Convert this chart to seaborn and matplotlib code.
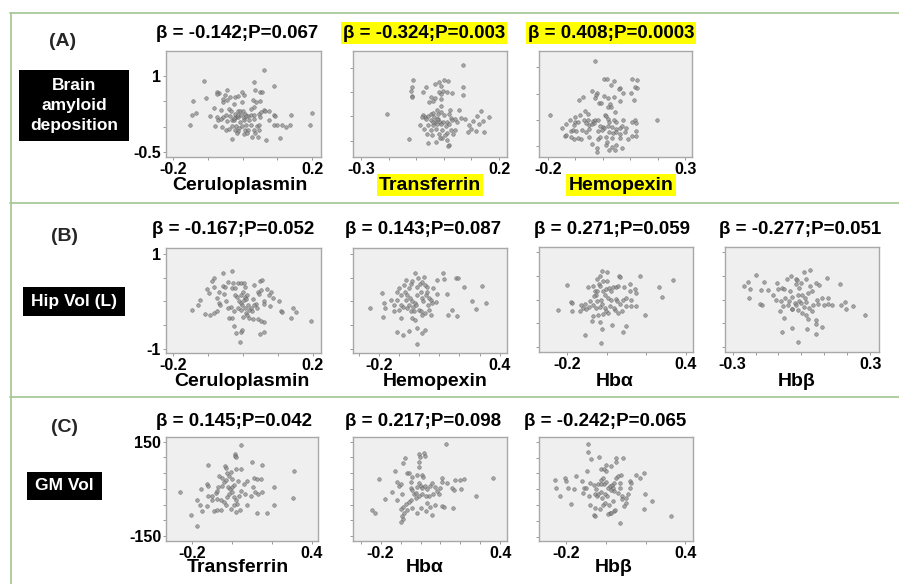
import numpy as np
import pandas as pd
import matplotlib
matplotlib.use("Agg")
import matplotlib.pyplot as plt
import seaborn as sns
from matplotlib.patches import Rectangle
from matplotlib.lines import Line2D

# ---------------- data ----------------
A1_PTS = [(0.060,1.13),(-0.110,0.91),(0.033,0.88),(0.090,0.80),(0.036,0.72),(0.050,0.69),(0.057,0.69),(-0.073,0.69),(-0.068,0.67),(-0.045,0.72),(-0.003,0.68),(-0.104,0.56),(-0.142,0.51),(-0.052,0.62),(-0.036,0.59),(-0.021,0.59),(-0.014,0.61),(0.003,0.62),(-0.045,0.52),(0.029,0.52),(-0.055,0.48),(-0.024,0.45),(-0.001,0.48),(0.038,0.48),(0.051,0.50),(-0.082,0.38),(-0.062,0.34),(-0.040,0.36),(-0.033,0.32),(-0.014,0.32),(-0.007,0.31),(0.002,0.32),(0.024,0.36),(0.032,0.39),(0.061,0.34),(-0.135,0.28),(-0.146,0.24),(-0.093,0.22),(-0.074,0.19),(-0.055,0.20),(-0.047,0.24),(-0.036,0.22),(-0.018,0.19),(-0.014,0.20),(0.003,0.17),(0.015,0.21),(0.023,0.24),(0.032,0.24),(0.047,0.26),(0.054,0.30),(0.065,0.31),(0.077,0.32),(0.091,0.24),(0.138,0.24),(0.200,0.28),(0.093,0.22),(-0.072,0.14),(-0.063,0.16),(-0.045,0.11),(-0.031,0.14),(-0.024,0.13),(-0.007,0.10),(0.004,0.13),(0.019,0.13),(0.032,0.15),(0.049,0.19),(0.075,0.13),(-0.152,0.04),(-0.079,0.02),(-0.059,0.00),(-0.031,0.01),(-0.018,0.02),(-0.010,-0.02),(-0.001,0.01),(0.009,0.04),(0.024,0.03),(0.041,0.01),(0.046,0.03),(0.091,0.03),(0.100,0.03),(0.112,0.03),(0.124,0.00),(0.136,0.03),(0.192,0.03),(-0.047,-0.07),(-0.039,-0.05),(-0.022,-0.06),(-0.014,-0.09),(0.006,-0.06),(0.014,-0.07),(0.032,-0.06),(0.047,-0.07),(-0.031,-0.24),(0.027,-0.20),(0.045,-0.20),(0.068,-0.27),(0.106,-0.22),(-0.015,-0.13),(0.003,-0.14),(0.012,-0.12),(0.036,-0.12),(-0.074,0.64),(-0.055,0.54),(-0.023,0.26),(-0.014,0.24),(-0.005,0.24),(0.006,0.26),(-0.026,0.17),(0.011,0.22)]

A2_PTS = [(0.070,1.05),(-0.111,0.74),(-0.115,0.61),(-0.120,0.53),(-0.117,0.42),(-0.115,0.39),(-0.065,0.61),(-0.075,0.50),(-0.033,0.66),(-0.017,0.71),(0.002,0.75),(0.014,0.72),(-0.012,0.63),(-0.005,0.53),(-0.018,0.50),(-0.012,0.46),(0.012,0.51),(0.029,0.47),(0.070,0.60),(0.068,0.44),(-0.048,0.40),(-0.031,0.37),(-0.039,0.32),(-0.054,0.30),(-0.012,0.36),(-0.010,0.21),(-0.024,0.13),(0.022,0.13),(0.053,0.13),(0.133,0.12),(-0.208,0.05),(-0.075,0.02),(-0.070,-0.01),(-0.079,-0.01),(-0.057,0.01),(-0.048,0.05),(-0.039,0.08),(-0.022,0.06),(-0.012,0.10),(0.000,0.04),(0.019,0.06),(0.027,-0.03),(0.042,-0.06),(0.063,-0.04),(0.077,-0.06),(0.121,0.01),(0.164,-0.02),(0.106,-0.09),(0.143,-0.10),(-0.066,-0.05),(-0.048,-0.08),(-0.034,-0.11),(-0.014,-0.12),(-0.002,-0.11),(0.012,-0.11),(0.031,-0.08),(0.048,-0.12),(-0.056,-0.18),(-0.039,-0.18),(-0.024,-0.16),(-0.012,-0.16),(0.007,-0.19),(0.019,-0.15),(0.091,-0.18),(0.127,-0.16),(-0.072,-0.25),(-0.048,-0.27),(-0.029,-0.25),(-0.007,-0.28),(0.024,-0.27),(0.039,-0.28),(0.097,-0.25),(0.118,-0.29),(0.089,-0.32),(0.145,-0.32),(-0.060,-0.35),(-0.042,-0.37),(-0.017,-0.35),(0.010,-0.34),(0.034,-0.35),(-0.126,-0.47),(-0.058,-0.54),(-0.027,-0.53),(-0.006,-0.45),(0.012,-0.49),(0.018,-0.59),(0.014,-0.61),(-0.014,-0.44),(0.005,-0.37),(-0.085,-0.18),(-0.036,-0.01),(-0.022,-0.05),(-0.041,-0.12),(-0.024,-0.05)]

A3_PTS = [(-0.028,1.12),(-0.193,0.09),(0.198,0.00),(0.004,0.78),(0.016,0.78),(0.041,0.74),(0.029,0.66),(0.106,0.78),(0.125,0.76),(0.061,0.61),(0.057,0.59),(0.118,0.63),(0.123,0.60),(-0.041,0.56),(-0.086,0.39),(-0.074,0.44),(-0.022,0.51),(-0.024,0.47),(-0.027,0.41),(0.005,0.46),(0.019,0.41),(0.039,0.44),(0.073,0.51),(0.104,0.52),(0.113,0.39),(0.063,0.37),(-0.015,0.32),(-0.006,0.32),(0.027,0.30),(0.018,0.25),(0.030,0.25),(0.044,0.16),(-0.066,0.18),(-0.053,0.11),(-0.085,0.10),(-0.121,0.01),(-0.102,0.05),(-0.133,-0.08),(-0.149,-0.15),(-0.103,-0.03),(-0.091,-0.03),(-0.069,0.01),(-0.055,0.01),(-0.036,-0.02),(-0.027,0.00),(-0.018,0.01),(0.007,0.09),(0.012,0.07),(0.017,0.03),(0.022,-0.03),(0.039,0.01),(0.049,-0.04),(0.073,0.00),(0.107,-0.04),(0.117,0.00),(0.121,-0.06),(-0.049,-0.09),(-0.041,-0.08),(-0.034,-0.06),(-0.012,-0.11),(0.000,-0.13),(0.005,-0.15),(0.018,-0.11),(0.034,-0.13),(0.046,-0.16),(0.061,-0.15),(0.085,-0.15),(0.121,-0.21),(-0.117,-0.21),(-0.109,-0.19),(-0.097,-0.21),(-0.078,-0.19),(-0.061,-0.22),(-0.049,-0.16),(-0.018,-0.21),(-0.005,-0.19),(0.022,-0.23),(0.036,-0.25),(0.049,-0.22),(0.063,-0.27),(0.080,-0.23),(-0.138,-0.30),(-0.115,-0.32),(-0.106,-0.35),(-0.090,-0.34),(-0.079,-0.35),(-0.049,-0.32),(-0.018,-0.35),(-0.012,-0.32),(0.012,-0.32),(0.034,-0.34),(0.061,-0.34),(0.092,-0.36),(0.106,-0.30),(0.121,-0.30),(-0.041,-0.46),(-0.021,-0.52),(0.010,-0.47),(0.016,-0.42),(0.033,-0.51),(0.046,-0.47),(0.068,-0.53),(-0.021,-0.60),(0.024,-0.57),(0.044,-0.56),(-0.106,-0.09),(-0.063,-0.06),(-0.133,-0.28),(0.070,-0.11)]

B1_PTS = [(-0.032,0.64),(-0.059,0.60),(-0.084,0.49),(-0.088,0.43),(-0.103,0.26),(-0.125,0.03),(-0.130,-0.07),(-0.147,-0.18),(-0.108,-0.27),(-0.094,-0.28),(-0.084,-0.24),(-0.076,-0.21),(-0.070,-0.04),(-0.065,-0.07),(-0.074,0.07),(-0.055,0.15),(-0.057,0.33),(-0.051,0.30),(-0.042,0.42),(-0.028,0.40),(-0.031,0.28),(-0.024,0.29),(-0.014,0.40),(-0.007,0.40),(0.003,0.40),(0.006,0.31),(-0.022,0.14),(-0.018,0.10),(-0.007,0.14),(-0.001,0.21),(0.005,0.09),(0.011,0.14),(-0.013,0.01),(-0.007,-0.04),(0.001,0.03),(0.009,0.05),(-0.014,-0.13),(-0.003,-0.07),(0.013,-0.07),(0.028,0.05),(0.032,0.35),(0.049,0.43),(0.053,0.45),(0.042,0.21),(0.046,0.15),(0.051,0.24),(0.067,0.27),(0.075,0.14),(0.080,0.21),(0.086,0.07),(0.061,0.00),(0.076,-0.09),(0.038,-0.05),(0.040,-0.13),(0.022,-0.14),(0.026,-0.21),(0.032,-0.07),(-0.036,-0.11),(-0.043,-0.14),(-0.026,-0.21),(-0.007,-0.18),(0.009,-0.25),(0.017,-0.18),(0.059,-0.06),(0.103,0.00),(0.107,-0.21),(0.111,-0.23),(0.143,-0.14),(0.152,-0.23),(0.138,-0.34),(0.194,-0.41),(-0.041,-0.35),(-0.031,-0.35),(-0.026,-0.52),(-0.020,-0.66),(-0.005,-0.65),(-0.002,-0.60),(-0.009,-0.86),(0.048,-0.68),(0.059,-0.65),(0.027,-0.37),(0.043,-0.38),(0.051,-0.41),(0.059,-0.44),(-0.099,0.17),(-0.084,0.31),(-0.069,0.21),(-0.049,0.01),(0.011,-0.28),(0.018,-0.35),(0.005,-0.14),(-0.001,-0.32)]

B2_PTS = [(-0.246,-0.13),(-0.183,0.17),(-0.175,-0.04),(-0.170,-0.14),(-0.179,-0.32),(-0.109,-0.65),(-0.079,-0.71),(-0.051,-0.62),(-0.093,-0.35),(-0.139,0.03),(-0.126,-0.07),(-0.112,0.03),(-0.109,0.21),(-0.093,0.14),(-0.102,0.28),(-0.076,0.35),(-0.068,0.45),(-0.073,0.21),(-0.060,0.14),(-0.050,0.28),(-0.043,0.36),(-0.035,0.43),(-0.023,0.60),(-0.007,0.49),(0.003,0.36),(0.015,0.42),(0.023,0.52),(0.030,0.35),(-0.046,0.07),(-0.036,0.00),(-0.030,-0.11),(-0.023,-0.04),(-0.017,-0.07),(-0.010,0.14),(0.007,0.21),(0.013,0.08),(0.020,0.01),(0.033,0.14),(0.040,0.21),(0.050,0.07),(0.043,-0.07),(0.056,0.03),(0.064,-0.04),(0.081,-0.02),(0.069,0.29),(0.089,0.45),(0.116,0.61),(0.122,0.48),(0.182,0.50),(0.195,0.49),(0.221,0.31),(0.312,0.33),(0.089,0.15),(0.139,0.15),(-0.079,-0.11),(-0.063,-0.14),(-0.051,-0.07),(-0.002,-0.18),(0.007,-0.21),(0.015,-0.28),(0.031,-0.25),(0.048,-0.18),(0.056,-0.28),(-0.035,-0.35),(-0.023,-0.39),(-0.010,-0.56),(0.012,-0.67),(0.031,-0.60),(-0.010,-0.89),(0.142,-0.28),(0.165,-0.19),(0.188,-0.30),(0.261,0.00),(0.281,-0.16),(0.332,-0.04),(-0.126,-0.21),(-0.099,-0.18),(-0.043,-0.21),(-0.026,-0.21),(-0.010,0.31),(0.040,0.31),(-0.068,0.03),(-0.089,-0.07)]

B3_PTS = [(-0.244,-0.22),(-0.202,0.30),(-0.182,-0.06),(-0.173,-0.08),(-0.176,-0.25),(-0.108,-0.74),(-0.030,-0.92),(-0.025,-0.62),(-0.024,0.60),(0.002,0.57),(-0.032,0.50),(-0.049,0.42),(-0.018,0.39),(0.002,0.38),(0.062,0.49),(0.067,0.47),(0.168,0.49),(-0.094,0.27),(-0.069,0.29),(-0.039,0.32),(-0.035,0.29),(-0.061,0.18),(-0.047,0.17),(-0.052,0.10),(-0.066,0.08),(-0.018,0.18),(-0.002,0.22),(0.012,0.24),(0.032,0.27),(0.049,0.27),(0.055,0.29),(0.089,0.26),(0.116,0.32),(0.143,0.22),(0.119,0.17),(0.150,0.13),(0.024,0.17),(-0.008,0.10),(0.007,0.03),(0.024,-0.01),(0.045,0.01),(0.054,-0.04),(0.082,-0.01),(0.099,0.03),(0.124,-0.01),(0.066,-0.10),(0.099,-0.13),(0.124,-0.13),(0.146,-0.13),(-0.128,-0.11),(-0.111,-0.10),(-0.086,-0.04),(-0.089,-0.15),(-0.119,-0.18),(-0.133,-0.25),(-0.069,-0.11),(-0.055,-0.18),(-0.035,-0.15),(-0.022,-0.10),(-0.010,-0.18),(-0.002,-0.25),(-0.018,-0.31),(0.007,-0.28),(0.042,-0.22),(0.057,-0.28),(0.076,-0.25),(-0.069,-0.35),(-0.044,-0.33),(-0.076,-0.45),(-0.035,-0.47),(0.025,-0.53),(0.082,-0.68),(0.096,-0.56),(0.192,-0.32),(0.262,0.27),(0.277,0.05),(0.336,0.41),(-0.103,-0.20),(-0.049,-0.03),(-0.027,-0.01),(0.018,-0.13),(0.035,-0.17)]

B4_PTS = [(-0.249,0.28),(-0.233,0.36),(-0.222,0.21),(-0.230,0.04),(-0.199,0.51),(-0.175,0.20),(-0.181,-0.10),(-0.170,-0.11),(-0.161,0.36),(-0.146,0.19),(-0.126,0.10),(-0.112,-0.01),(-0.106,0.34),(-0.103,0.22),(-0.086,0.24),(-0.075,0.21),(-0.065,0.42),(-0.046,0.50),(-0.088,-0.04),(-0.080,-0.13),(-0.071,0.03),(-0.059,-0.11),(-0.094,-0.25),(-0.075,-0.38),(-0.083,-0.68),(-0.039,-0.60),(-0.013,-0.90),(-0.022,0.44),(-0.019,0.40),(-0.025,0.32),(-0.010,0.24),(-0.001,0.34),(0.012,0.57),(0.019,0.44),(0.036,0.62),(0.039,0.29),(0.062,0.34),(0.077,0.31),(0.113,0.46),(0.170,0.32),(-0.051,0.17),(-0.039,0.06),(-0.017,0.10),(0.004,0.10),(0.016,0.04),(0.030,0.13),(0.048,0.17),(0.070,-0.01),(0.088,0.04),(0.114,0.03),(-0.010,-0.03),(0.000,-0.08),(0.012,-0.15),(0.022,-0.06),(0.033,-0.18),(0.051,-0.11),(0.074,-0.10),(0.099,-0.11),(0.117,-0.10),(0.135,-0.11),(0.171,-0.11),(0.190,-0.06),(0.193,-0.19),(0.225,-0.13),(0.277,-0.32),(-0.054,-0.04),(-0.039,-0.19),(-0.030,-0.08),(-0.013,-0.22),(0.004,-0.28),(0.019,-0.33),(0.030,-0.40),(0.048,-0.25),(0.062,-0.42),(0.026,-0.62),(0.065,-0.51),(0.091,-0.58),(0.065,-0.72),(-0.042,-0.19),(-0.025,-0.11)]

C1_PTS = [(0.045,139),(0.012,110),(0.013,105),(0.017,102),(-0.120,77),(-0.037,72),(-0.033,65),(0.098,86),(0.150,77),(0.312,56),(-0.067,42),(-0.050,36),(-0.025,49),(-0.008,55),(0.017,63),(0.045,64),(-0.128,15),(-0.122,10),(-0.155,0),(-0.265,-10),(-0.175,-35),(-0.208,-82),(-0.177,-117),(-0.162,-50),(-0.153,-71),(-0.125,-56),(-0.092,-71),(-0.078,-67),(-0.058,-67),(-0.100,-22),(-0.083,-14),(-0.075,-6),(-0.072,5),(-0.050,10),(-0.042,21),(-0.033,28),(-0.017,42),(0.000,31),(-0.022,5),(-0.012,0),(-0.002,7),(0.008,13),(0.028,26),(-0.017,-16),(-0.028,-27),(0.000,-11),(0.008,-27),(0.018,-35),(0.033,-22),(0.045,-8),(0.058,15),(0.072,26),(0.108,36),(0.125,31),(0.105,7),(0.112,-11),(0.128,-16),(0.092,-22),(0.148,-11),(0.145,31),(0.062,-16),(0.025,-48),(0.008,-50),(0.038,-67),(0.017,-74),(0.072,-50),(0.122,-77),(0.172,-77),(0.208,5),(0.208,-53),(0.305,-29),(-0.058,-37),(-0.042,-43),(-0.075,-32),(-0.100,-35),(-0.122,-22),(-0.033,-53),(-0.008,-64)]

C2_PTS = [(0.130,143),(-0.242,-68),(-0.230,-76),(-0.208,32),(-0.180,-32),(-0.145,-9),(-0.127,58),(-0.117,21),(-0.108,8),(-0.100,16),(-0.095,-18),(-0.087,82),(-0.077,97),(-0.067,52),(-0.060,52),(-0.050,21),(-0.042,37),(-0.008,111),(-0.003,101),(0.015,113),(0.020,105),(-0.010,87),(-0.007,71),(0.008,45),(0.010,39),(-0.050,3),(-0.042,-3),(-0.033,-15),(-0.023,-13),(-0.017,6),(-0.008,18),(0.000,10),(0.008,3),(0.020,8),(0.033,-1),(0.050,10),(0.060,18),(0.075,6),(0.083,-8),(0.100,3),(0.063,-15),(0.043,-22),(0.025,-22),(0.008,-18),(-0.008,-24),(-0.025,-29),(-0.050,-34),(-0.058,-42),(-0.073,-47),(-0.087,-57),(-0.097,-64),(-0.083,-76),(-0.092,-85),(-0.087,-95),(-0.097,-106),(-0.067,-68),(-0.042,-61),(-0.020,-76),(0.003,-61),(0.025,-71),(0.047,-57),(0.058,-82),(0.075,-53),(0.108,-55),(0.120,-57),(0.163,-61),(0.107,34),(0.108,21),(0.133,18),(0.158,3),(0.175,29),(0.197,29),(0.217,31),(0.167,-5),(0.205,-1),(0.277,-22),(0.363,34),(-0.117,-34),(-0.017,45),(0.030,-45),(0.095,-18)]

C3_PTS = [(-0.089,142),(-0.091,118),(-0.077,96),(-0.037,102),(0.049,99),(0.049,87),(0.086,99),(0.027,73),(-0.002,75),(-0.024,63),(-0.012,63),(0.002,57),(-0.094,57),(-0.153,41),(-0.259,29),(-0.250,5),(-0.234,-23),(-0.207,34),(-0.203,26),(-0.192,5),(-0.176,-48),(-0.160,2),(-0.123,26),(-0.113,5),(-0.099,5),(-0.116,-11),(-0.087,-22),(-0.079,-50),(-0.054,-61),(-0.062,-83),(-0.057,-86),(-0.032,-64),(-0.015,-50),(-0.007,-43),(0.015,-50),(0.022,-74),(0.039,-69),(0.045,-67),(0.010,-79),(0.027,-77),(0.072,-106),(-0.082,21),(-0.062,13),(-0.049,-1),(-0.040,15),(-0.025,28),(-0.015,34),(-0.012,17),(-0.002,23),(0.008,5),(0.018,10),(0.029,13),(0.039,21),(0.052,34),(0.059,42),(0.077,45),(0.119,26),(0.128,21),(0.153,45),(0.190,52),(0.173,34),(-0.055,-14),(-0.045,-22),(-0.039,-14),(-0.024,-8),(-0.007,-14),(0.005,-22),(0.027,-4),(0.039,-6),(0.059,-11),(0.082,-22),(0.099,-27),(0.072,5),(0.082,-32),(0.111,-14),(0.119,5),(0.103,-43),(0.089,-53),(0.195,-14),(0.190,-64),(0.230,-37),(0.329,-84),(-0.022,-29),(0.035,-37),(-0.024,15),(0.035,5),(0.069,21)]

TITLES = ["β = -0.142;P=0.067", "β = -0.324;P=0.003", "β = 0.408;P=0.0003",
          "β = -0.167;P=0.052", "β = 0.143;P=0.087", "β = 0.271;P=0.059", "β = -0.277;P=0.051",
          "β = 0.145;P=0.042", "β = 0.217;P=0.098", "β = -0.242;P=0.065"]
XLABELS = ["Ceruloplasmin", "Transferrin", "Hemopexin",
           "Ceruloplasmin", "Hemopexin", "Hbα", "Hbβ",
           "Transferrin", "Hbα", "Hbβ"]
HIGHLIGHT = [False, True, True, False, False, False, False, False, False, False]
ROW_LABELS = ["(A)", "(B)", "(C)"]
ROW_BOXES = ["Brain\namyloid\ndeposition", "Hip Vol (L)", "GM Vol"]

X_TICKS = [[-0.2, -0.1, 0, 0.1, 0.2], [-0.3, -0.2, -0.1, 0, 0.1, 0.2], [-0.2, -0.1, 0, 0.1, 0.2, 0.3],
           [-0.2, -0.1, 0, 0.1, 0.2], [-0.3, -0.2, -0.1, 0, 0.1, 0.2, 0.3, 0.4], [-0.2, 0, 0.2, 0.4],
           [-0.3, -0.2, -0.1, 0, 0.1, 0.2, 0.3],
           [-0.2, 0, 0.2, 0.4], [-0.3, -0.2, -0.1, 0, 0.1, 0.2, 0.3, 0.4], [-0.2, 0, 0.2, 0.4]]
X_TICKLABELS = [["-0.2", "", "", "", "0.2"], ["-0.3", "", "", "", "", "0.2"], ["-0.2", "", "", "", "", "0.3"],
                ["-0.2", "", "", "", "0.2"], ["", "-0.2", "", "", "", "", "", "0.4"], ["-0.2", "", "", "0.4"],
                ["-0.3", "", "", "", "", "", "0.3"],
                ["-0.2", "", "", "0.4"], ["", "-0.2", "", "", "", "", "", "0.4"], ["-0.2", "", "", "0.4"]]
Y_TICKS_A = [-0.5, 0, 0.5, 1.0]
Y_TICKS_B = [-1, -0.5, 0, 0.5, 1]
Y_TICKS_C = [-150, -100, -50, 0, 50, 100, 150]
Y_TICKLABELS = [["-0.5", "", "", "1"], None, None,
                ["-1", "", "", "", "1"], None, None, None,
                ["-150", "", "", "", "", "", "150"], None, None]

# ---------------- layout (pixels) ----------------
W, H = 899, 584
PTS = [A1_PTS, A2_PTS, A3_PTS, B1_PTS, B2_PTS, B3_PTS, B4_PTS, C1_PTS, C2_PTS, C3_PTS]
BOXES = [(166, 51, 321, 157), (353, 51, 507, 157), (539, 51, 692, 157),
         (166, 248, 321, 353), (353, 248, 507, 353), (539, 247, 693, 352), (725, 247, 879, 352),
         (166, 437, 318, 541), (353, 437, 507, 541), (539, 437, 693, 541)]
XLIMS = [(-0.22, 0.225), (-0.33, 0.229), (-0.233, 0.325),
         (-0.221, 0.223), (-0.329, 0.436), (-0.341, 0.435), (-0.333, 0.338),
         (-0.333, 0.43), (-0.338, 0.433), (-0.338, 0.439)]
YLIMS = [(-0.6, 1.5), (-0.83, 1.34), (-0.70, 1.31),
         (-1.09, 1.13), (-1.09, 1.13), (-1.10, 1.10), (-1.10, 1.10),
         (-166, 165), (-166, 165), (-164, 165)]
YTICKS = [Y_TICKS_A] * 3 + [Y_TICKS_B] * 4 + [Y_TICKS_C] * 3
TITLE_CX = [237, 424, 611, 233, 423, 612, 800, 234, 423, 605]
TITLE_GAP = [18, 18, 18, 19, 19, 18, 18, 15, 15, 15]
XLAB_CX = [240, 430, 621, 242, 435, 615, 797, 238, 425, 614]
XLAB_GAP = [28, 28, 28, 29, 29, 30, 30, 27, 27, 27]

sns.set_style("white")
plt.rcParams["font.family"] = ["Liberation Sans", "DejaVu Sans"]
plt.rcParams["font.weight"] = "bold"

fig = plt.figure(figsize=(W / 100, H / 100), dpi=100)
fig.patch.set_facecolor("white")


def frect(x0, y0, x1, y1):
    return [x0 / W, 1 - y1 / H, (x1 - x0) / W, (y1 - y0) / H]


def fx(x):
    return x / W


def fy(y):
    return 1 - y / H


for i in range(10):
    x0, y0, x1, y1 = BOXES[i]
    ax = fig.add_axes(frect(x0, y0, x1, y1))
    df = pd.DataFrame(PTS[i], columns=["x", "y"])
    sns.scatterplot(data=df, x="x", y="y", ax=ax, s=7, color="#8c8c8c",
                    edgecolor="#505050", linewidth=0.35, alpha=0.75, legend=False)
    ax.set_xlim(*XLIMS[i])
    ax.set_ylim(*YLIMS[i])
    ax.set_facecolor("#efefef")
    for sp in ax.spines.values():
        sp.set_color("#a8a8a8")
        sp.set_linewidth(1.0)
    ax.set_xticks(X_TICKS[i])
    ax.set_xticklabels(X_TICKLABELS[i])
    ax.set_yticks(YTICKS[i])
    if Y_TICKLABELS[i] is not None:
        ax.set_yticklabels(Y_TICKLABELS[i])
    else:
        ax.set_yticklabels([""] * len(YTICKS[i]))
    ax.set_xlabel("")
    ax.set_ylabel("")
    ax.tick_params(axis="both", bottom=True, left=True, direction="out", length=2,
                   width=0.7, color="#9a9a9a", labelsize=11.5, pad=1.5, labelcolor="black")
    for lbl in ax.get_xticklabels() + ax.get_yticklabels():
        lbl.set_fontweight("bold")

    bb = dict(facecolor="#ffff00", edgecolor="none", pad=1.5) if HIGHLIGHT[i] else None
    fig.text(fx(TITLE_CX[i]), fy(y0 - TITLE_GAP[i]), TITLES[i], ha="center", va="center",
             fontsize=13.5, fontweight="bold", color="black", bbox=bb)
    fig.text(fx(XLAB_CX[i]), fy(y1 + XLAB_GAP[i]), XLABELS[i], ha="center", va="center",
             fontsize=14, fontweight="bold", color="black", bbox=bb)

# row labels and black boxes
ROW_LAB_POS = [(63, 42), (65, 236), (65, 427)]
for (cx, cy), lab in zip(ROW_LAB_POS, ROW_LABELS):
    fig.text(fx(cx), fy(cy), lab, ha="center", va="center", fontsize=14, fontweight="bold")

BLACK_BOXES = [(19, 70, 129, 141), (23, 287, 125, 316), (27, 472, 102, 500)]
for (bx0, by0, bx1, by1), lab in zip(BLACK_BOXES, ROW_BOXES):
    fig.add_artist(Rectangle((fx(bx0), fy(by1)), (bx1 - bx0) / W, (by1 - by0) / H,
                             transform=fig.transFigure, facecolor="black", edgecolor="none"))
    fig.text(fx((bx0 + bx1) / 2), fy((by0 + by1) / 2), lab, ha="center", va="center",
             fontsize=12.5, fontweight="bold", color="white", linespacing=1.4)

# green frame lines
GREEN = "#a9c898"
for yy in [13, 203, 397]:
    fig.add_artist(Line2D([fx(10), fx(899)], [fy(yy), fy(yy)], transform=fig.transFigure,
                          color=GREEN, linewidth=1.3))
fig.add_artist(Line2D([fx(10.5), fx(10.5)], [fy(13), fy(584)], transform=fig.transFigure,
                      color=GREEN, linewidth=1.3))

fig.savefig("out.png", dpi=100, facecolor="white")
